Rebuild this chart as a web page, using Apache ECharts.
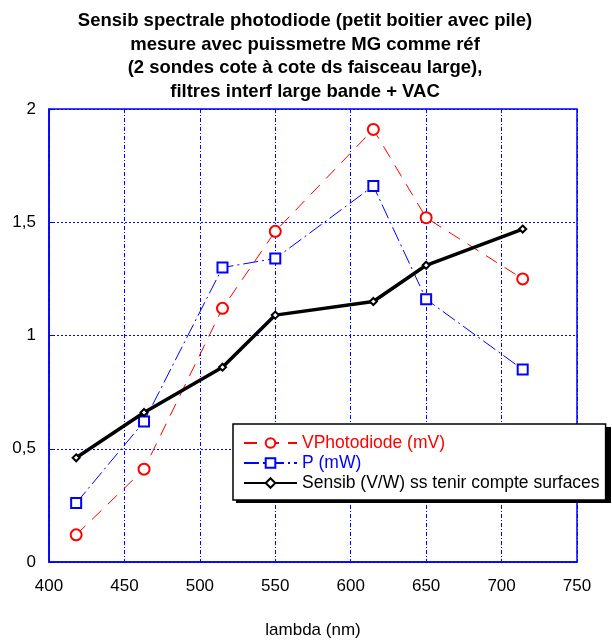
<!DOCTYPE html>
<html>
<head>
    <meta charset="utf-8">
    <title>Sensib spectrale photodiode</title>
    <script src="https://cdn.jsdelivr.net/npm/echarts@6/dist/echarts.min.js"></script>
</head>
<body style="margin:0">
    <div id="main" style="width: 612px;height:640px;"></div>
    <script type="text/javascript">
        var myChart = echarts.init(document.getElementById('main'));

        // lambda (nm) of each filter
        var lambda = [418, 463, 515, 550, 615, 650, 714];
        var vPhotodiode = [0.12, 0.41, 1.12, 1.46, 1.91, 1.52, 1.25];
        var puissance = [0.26, 0.62, 1.30, 1.34, 1.66, 1.16, 0.85];
        var sensib = [0.46, 0.66, 0.86, 1.09, 1.15, 1.31, 1.47];

        var seriesNames = ['VPhotodiode (mV)', 'P (mW)', 'Sensib (V/W) ss tenir compte surfaces'];

        function pairs(ys) {
            return lambda.map(function (x, i) { return [x, ys[i]]; });
        }

        var font = 'Liberation Sans, Arial, sans-serif';
        var blue = '#0000ff';

        option = {
            backgroundColor: '#fff',
            animation: false,
            textStyle: { fontFamily: font },
            title: {
                text: 'Sensib spectrale photodiode (petit boitier avec pile)\nmesure avec puissmetre MG comme réf\n(2 sondes cote à cote ds faisceau large),\nfiltres interf large bande + VAC',
                left: 305,
                top: 9,
                padding: 0,
                textAlign: 'center',
                textStyle: {
                    fontFamily: font,
                    fontSize: 18.5,
                    fontWeight: 'bold',
                    lineHeight: 23.7,
                    color: '#000'
                }
            },
            // drop shadow of the legend box
            graphic: [{
                type: 'rect',
                z: 9,
                shape: { x: 236, y: 427, width: 375, height: 76 },
                style: { fill: '#000' }
            }],
            legend: {
                z: 10,
                orient: 'vertical',
                left: 233,
                top: 424,
                padding: [10, 6, 8, 10],
                itemWidth: 53,
                itemHeight: 12,
                itemGap: 2,
                backgroundColor: '#fff',
                borderColor: '#000',
                borderWidth: 1.5,
                borderRadius: 0,
                textStyle: { fontFamily: font, fontSize: 17.5 },
                data: [
                    { name: seriesNames[0], textStyle: { color: '#ff0000' } },
                    { name: seriesNames[1], textStyle: { color: blue } },
                    { name: seriesNames[2], textStyle: { color: '#000' } }
                ]
            },
            grid: {
                left: 49,
                right: 35,
                top: 109,
                bottom: 78,
                outerBoundsMode: 'none',
                show: true,
                borderColor: blue,
                borderWidth: 1.5,
                backgroundColor: 'transparent'
            },
            xAxis: {
                type: 'value',
                min: 400,
                max: 750,
                interval: 50,
                name: 'lambda (nm)',
                nameLocation: 'middle',
                nameGap: 60,
                nameTextStyle: { fontFamily: font, fontSize: 17, color: '#000' },
                axisLine: { lineStyle: { color: blue, width: 1.5 } },
                axisTick: { show: false },
                axisLabel: { fontFamily: font, fontSize: 17, color: '#000', margin: 16 },
                splitLine: { lineStyle: { color: blue, type: [4, 2, 1, 2], width: 1 } }
            },
            yAxis: {
                type: 'value',
                min: 0,
                max: 2,
                interval: 0.5,
                axisLine: { show: true, lineStyle: { color: blue, width: 1.5 } },
                axisTick: { show: true, inside: true, length: 5, lineStyle: { color: blue } },
                axisLabel: {
                    fontFamily: font, fontSize: 17, color: '#000', margin: 13,
                    formatter: function (v) { return String(v).replace('.', ','); }
                },
                splitLine: { lineStyle: { color: blue, type: [2, 2], width: 1 } }
            },
            series: [{
                name: seriesNames[0],
                type: 'line',
                data: pairs(vPhotodiode),
                symbol: 'emptyCircle',
                symbolSize: 11,
                lineStyle: { color: '#ff0000', width: 1, type: [13, 9] },
                itemStyle: { color: '#ff0000', borderColor: '#ff0000', borderWidth: 1 },
                z: 3
            }, {
                name: seriesNames[1],
                type: 'line',
                data: pairs(puissance),
                symbol: 'emptyRect',
                symbolSize: 10,
                lineStyle: { color: blue, width: 1, type: [15, 4, 2, 4] },
                itemStyle: { color: blue, borderColor: blue, borderWidth: 1 },
                z: 3
            }, {
                name: seriesNames[2],
                type: 'line',
                data: pairs(sensib),
                symbol: 'emptyDiamond',
                symbolSize: 7,
                lineStyle: { color: '#000', width: 3.5 },
                itemStyle: { color: '#000', borderColor: '#000', borderWidth: 1 },
                z: 4
            }]
        };

        // use configuration item and data specified to show chart
        myChart.setOption(option);
    </script>
</body>
</html>
